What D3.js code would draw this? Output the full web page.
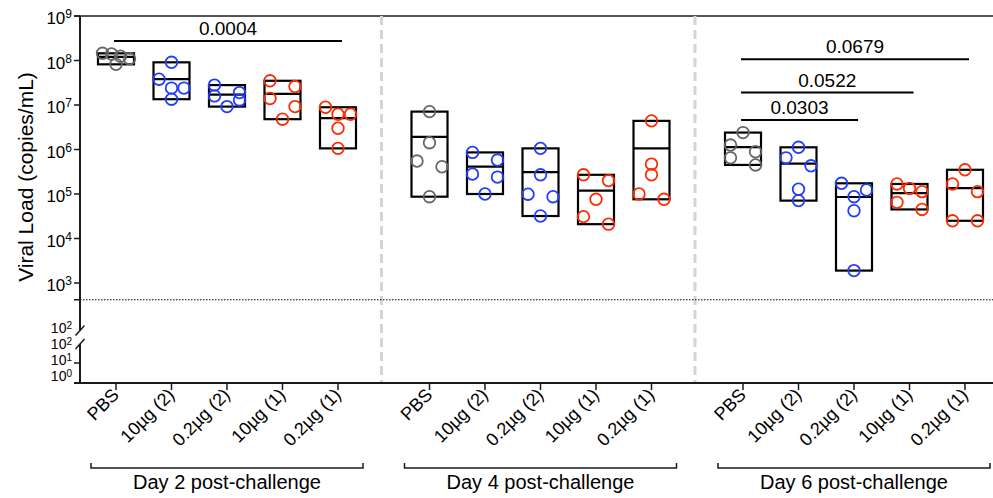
<!DOCTYPE html>
<html lang="en">

<head>
    <meta charset="UTF-8">
    <title>Viral load after challenge</title>
    <style>
        body { margin: 0; background: #fff; }
        svg { display: block; font-family: "Liberation Sans", Arial, sans-serif; }
    </style>
</head>

<body>
    <svg id="chart" width="993" height="498"></svg>

    <script src="https://d3js.org/d3.v7.min.js"></script>
    <script>
        // categories
        const days = ["Day 2 post-challenge", "Day 4 post-challenge", "Day 6 post-challenge"];
        const groups = ["PBS", "10µg (2)", "0.2µg (2)", "10µg (1)", "0.2µg (1)"];

        // viral load per animal (copies/mL), one row per group
        const day2Values = [
            [1.45e8, 1.40e8, 1.10e8, 1.25e8, 8.2e7],
            [9.1e7, 3.8e7, 2.4e7, 2.4e7, 1.35e7],
            [2.8e7, 1.9e7, 1.6e7, 1.3e7, 9.2e6],
            [3.5e7, 2.6e7, 1.4e7, 9.2e6, 4.8e6],
            [8.9e6, 6.2e6, 6.2e6, 3.0e6, 1.06e6]
        ];
        const day4Values = [
            [7.1e6, 1.42e6, 5.5e5, 4.1e5, 8.7e4],
            [8.6e5, 5.8e5, 2.8e5, 2.4e5, 1.0e5],
            [1.06e6, 2.7e5, 9.9e4, 8.7e4, 3.2e4],
            [2.7e5, 2.0e5, 7.6e4, 3.1e4, 2.1e4],
            [4.4e6, 4.7e5, 2.7e5, 1.0e5, 7.6e4]
        ];
        const day6Values = [
            [2.4e6, 1.26e6, 8.9e5, 6.5e5, 4.5e5],
            [1.12e6, 6.5e5, 4.3e5, 1.28e5, 7.1e4],
            [1.74e5, 1.23e5, 8.7e4, 4.2e4, 1.9e3],
            [1.68e5, 1.34e5, 1.13e5, 6.5e4, 4.5e4],
            [3.5e5, 1.68e5, 1.13e5, 2.5e4, 2.5e4]
        ];

        // axis ticks (upper segment and the broken lower segment)
        const upperTicks = [1e2, 1e3, 1e4, 1e5, 1e6, 1e7, 1e8, 1e9];
        const lowerTicks = [1, 10, 100];
        const detectionLimit = 420;

        // p-value comparisons
        const pDay = [0, 2, 2, 2];
        const pFrom = [0, 0, 0, 0];
        const pTo = [4, 2, 3, 4];
        const pLabels = ["0.0004", "0.0303", "0.0522", "0.0679"];
        const pHeights = [2.75e8, 4.6e6, 1.9e7, 1.06e8];

        const groupColors = ["#666666", "#1f3cff", "#1f3cff", "#ff2a00", "#ff2a00"];
        const allValues = [day2Values, day4Values, day6Values];

        const svg = d3.select("#chart");
        const W = 993;
        const axisX = 80;
        const topY = 16;
        const bottomY = 383;

        const yUpper = d3.scaleLog().domain([1e2, 1e9]).range([327.5, topY]);
        const yLower = d3.scaleLog().domain([1, 100]).range([bottomY, 343]);
        // lower labels sit a little tighter than their ticks (as in Prism)
        const yLowerLabel = d3.scaleLog().domain([1, 100]).range([bottomY - 2, 349]);

        const dayX = d3.scalePoint().domain(days).range([116, 743]);
        const groupX = d3.scalePoint().domain(groups).range([0, 222]);
        const xPos = (d, g) => dayX(days[d]) + groupX(groups[g]);

        const ink = "#1a1a1a";

        // frame: top line, dashed separators
        svg.append("line")
            .attr("x1", axisX - 6).attr("x2", W)
            .attr("y1", topY).attr("y2", topY)
            .attr("stroke", ink).attr("stroke-width", 1.5);

        days.slice(1).forEach(d => {
            svg.append("line")
                .attr("x1", dayX(d) - 48).attr("x2", dayX(d) - 48)
                .attr("y1", topY).attr("y2", bottomY)
                .attr("stroke", "#d4d4d4").attr("stroke-width", 3)
                .attr("stroke-dasharray", "9,5");
        });

        // detection limit
        svg.append("line")
            .attr("x1", axisX).attr("x2", W)
            .attr("y1", yUpper(detectionLimit)).attr("y2", yUpper(detectionLimit))
            .attr("stroke", "#000").attr("stroke-width", 1)
            .attr("stroke-dasharray", "1.5,1.5");
        svg.append("line")
            .attr("x1", axisX - 6).attr("x2", axisX)
            .attr("y1", yUpper(detectionLimit)).attr("y2", yUpper(detectionLimit))
            .attr("stroke", ink).attr("stroke-width", 1.5);

        // y axis, upper segment
        svg.append("line")
            .attr("x1", axisX).attr("x2", axisX)
            .attr("y1", topY).attr("y2", yUpper(1e2) + 3)
            .attr("stroke", ink).attr("stroke-width", 2);
        // y axis, lower segment
        svg.append("line")
            .attr("x1", axisX).attr("x2", axisX)
            .attr("y1", yLower(100) + 1).attr("y2", bottomY)
            .attr("stroke", ink).attr("stroke-width", 2);

        // break slashes
        [yUpper(1e2) + 3, yLower(100) + 1].forEach(y => {
            svg.append("line")
                .attr("x1", axisX - 4.5).attr("x2", axisX + 4.5)
                .attr("y1", y + 5).attr("y2", y - 5)
                .attr("stroke", ink).attr("stroke-width", 1.5);
        });

        function powLabel(sel, v, size, supSize, supShift) {
            const e = Math.round(Math.log10(v));
            sel.append("tspan").text("10").attr("font-size", size);
            sel.append("tspan").text(e).attr("font-size", supSize).attr("dy", -supShift);
        }

        upperTicks.forEach(v => {
            const y = yUpper(v);
            if (v > 1e2) {
                svg.append("line")
                    .attr("x1", axisX - 6).attr("x2", axisX)
                    .attr("y1", y).attr("y2", y)
                    .attr("stroke", ink).attr("stroke-width", 1.5);
            }
            const t = svg.append("text")
                .attr("x", axisX - 8).attr("y", v > 1e2 ? y + 8 : y + 5)
                .attr("text-anchor", "end").attr("fill", "#000");
            if (v > 1e2) powLabel(t, v, 17, 12, 6);
            else powLabel(t, v, 14, 10, 4);
        });

        lowerTicks.forEach(v => {
            const y = yLower(v);
            if (v < 100) {
                svg.append("line")
                    .attr("x1", axisX - 6).attr("x2", axisX)
                    .attr("y1", y).attr("y2", y)
                    .attr("stroke", ink).attr("stroke-width", 1.5);
            }
            const t = svg.append("text")
                .attr("x", axisX - 8).attr("y", yLowerLabel(v))
                .attr("text-anchor", "end").attr("fill", "#000");
            powLabel(t, v, 14, 10, 4);
        });

        // y axis title
        svg.append("text")
            .attr("transform", "translate(33,177) rotate(-90)")
            .attr("text-anchor", "middle")
            .attr("font-size", 21)
            .text("Viral Load (copies/mL)");

        // x axis
        svg.append("line")
            .attr("x1", axisX - 6).attr("x2", W)
            .attr("y1", bottomY).attr("y2", bottomY)
            .attr("stroke", ink).attr("stroke-width", 2);

        days.forEach((day, d) => {
            groups.forEach((g, gi) => {
                const x = xPos(d, gi);
                svg.append("line")
                    .attr("x1", x).attr("x2", x)
                    .attr("y1", bottomY).attr("y2", bottomY + 7)
                    .attr("stroke", ink).attr("stroke-width", 1.5);
                svg.append("text")
                    .attr("transform", `translate(${x + 4},${bottomY + 13}) rotate(-45)`)
                    .attr("text-anchor", "end")
                    .attr("font-size", 18)
                    .text(g);
            });

            // day bracket
            const cx = dayX(day) + 111;
            const half = 136;
            svg.append("path")
                .attr("d", `M${cx - half},${bottomY + 80} V${bottomY + 85} H${cx + half} V${bottomY + 80}`)
                .attr("fill", "none").attr("stroke", ink).attr("stroke-width", 1.5);
            svg.append("text")
                .attr("x", cx).attr("y", bottomY + 106)
                .attr("text-anchor", "middle")
                .attr("font-size", 20)
                .text(day);
        });

        // spread overlapping points sideways, row by row
        function dodge(vals) {
            const pts = vals.map(v => ({ v: v, y: yUpper(v) })).sort((a, b) => a.y - b.y);
            const rows = [];
            pts.forEach(p => {
                const row = rows[rows.length - 1];
                if (row && p.y - row[0].y < 10.5) row.push(p);
                else rows.push([p]);
            });
            rows.forEach(row => {
                const n = row.length;
                const step = n > 3 ? 27 / (n - 1) : 12.5;
                row.forEach((p, k) => {
                    p.dx = (n === 2 ? (k === 0 ? -1 : 1) : k - (n - 1) / 2) * step;
                });
            });
            return pts;
        }

        const boxHalf = 18;
        allValues.forEach((dayVals, d) => {
            dayVals.forEach((vals, gi) => {
                const x = xPos(d, gi);
                const yMax = yUpper(d3.max(vals));
                const yMin = yUpper(d3.min(vals));
                const yMean = yUpper(d3.mean(vals));

                svg.append("rect")
                    .attr("x", x - boxHalf).attr("width", boxHalf * 2)
                    .attr("y", yMax).attr("height", yMin - yMax)
                    .attr("fill", "none").attr("stroke", "#000").attr("stroke-width", 2.2);
                svg.append("line")
                    .attr("x1", x - boxHalf).attr("x2", x + boxHalf)
                    .attr("y1", yMean).attr("y2", yMean)
                    .attr("stroke", "#000").attr("stroke-width", 2.2);

                svg.selectAll(null)
                    .data(dodge(vals))
                    .enter().append("circle")
                    .attr("cx", p => x + p.dx)
                    .attr("cy", p => p.y)
                    .attr("r", 5.8)
                    .attr("fill", "none")
                    .attr("stroke", groupColors[gi])
                    .attr("stroke-width", 1.8);
            });
        });

        // significance bars
        pLabels.forEach((label, i) => {
            const x1 = xPos(pDay[i], pFrom[i]) - 2;
            const x2 = xPos(pDay[i], pTo[i]) + 4;
            const y = yUpper(pHeights[i]);
            svg.append("line")
                .attr("x1", x1).attr("x2", x2)
                .attr("y1", y).attr("y2", y)
                .attr("stroke", "#000").attr("stroke-width", 2);
            svg.append("text")
                .attr("x", (x1 + x2) / 2).attr("y", y - 6)
                .attr("text-anchor", "middle")
                .attr("font-size", 19)
                .text(label);
        });
    </script>
</body>

</html>
